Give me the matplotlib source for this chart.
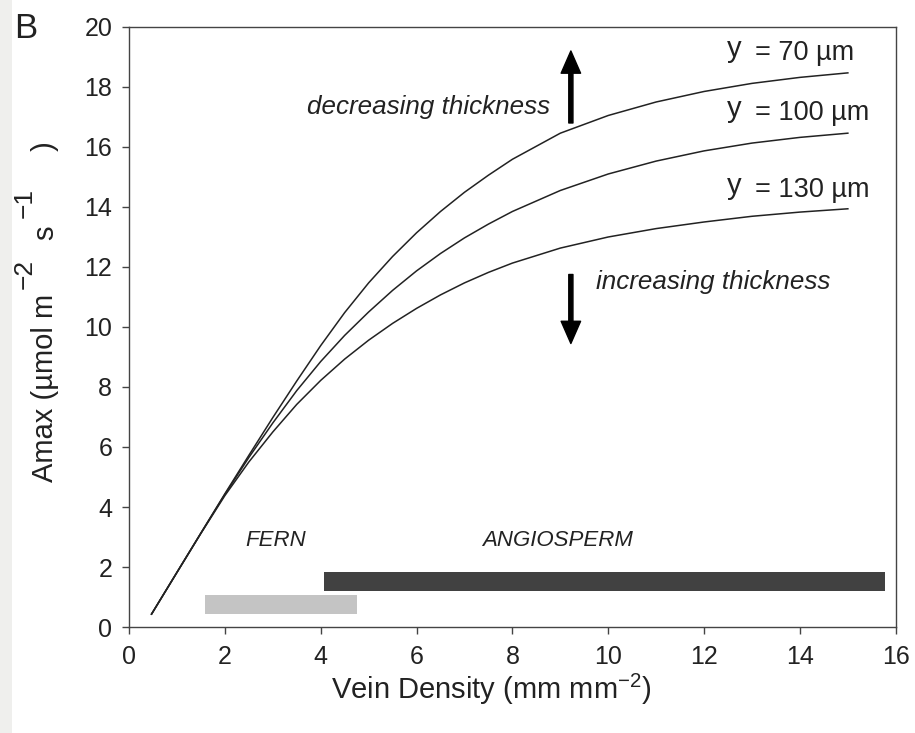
import numpy as np
import matplotlib
matplotlib.use('Agg')
import matplotlib.pyplot as plt
from matplotlib.patches import Rectangle

plt.rcParams['font.family'] = ['Liberation Sans', 'DejaVu Sans']
plt.rcParams['mathtext.fontset'] = 'custom'
plt.rcParams['mathtext.rm'] = 'Liberation Sans'
plt.rcParams['mathtext.it'] = 'Liberation Sans:italic'

# 叶脉密度 (mm mm-2) 与最大光合速率 Amax
vein_density = [0.47, 1.0, 1.5, 2.0, 2.5, 3.0, 3.5, 4.0, 4.5, 5.0, 5.5, 6.0, 6.5,
                7.0, 7.5, 8.0, 9.0, 10.0, 11.0, 12.0, 13.0, 14.0, 15.0]
amax_70 = [0.43, 1.82, 3.13, 4.44, 5.72, 6.98, 8.2, 9.38, 10.48, 11.47, 12.35,
           13.14, 13.85, 14.49, 15.06, 15.59, 16.46, 17.05, 17.5, 17.85, 18.12,
           18.32, 18.47]
amax_100 = [0.43, 1.82, 3.13, 4.42, 5.65, 6.8, 7.88, 8.85, 9.72, 10.5, 11.22,
            11.87, 12.45, 12.97, 13.43, 13.85, 14.55, 15.1, 15.53, 15.87, 16.13,
            16.32, 16.46]
amax_130 = [0.43, 1.82, 3.12, 4.38, 5.5, 6.5, 7.42, 8.22, 8.93, 9.56, 10.12,
            10.62, 11.07, 11.47, 11.82, 12.13, 12.63, 13.0, 13.28, 13.5, 13.69,
            13.83, 13.94]
thickness = ['70', '100', '130']
label_base = [18.9, 16.9, 14.34]

# 蕨类与被子植物的叶脉密度范围
groups = ['FERN', 'ANGIOSPERM']
range_start = [1.59, 4.06]
range_end = [4.75, 15.77]
bar_y = [0.75, 1.51]
bar_colors = ['#c4c4c4', '#414141']
group_text_x = [3.07, 8.95]

W, H = 915, 733
fig = plt.figure(figsize=(W / 100, H / 100), dpi=100)
fig.patches.append(Rectangle((0, 0), 12 / W, 1, transform=fig.transFigure,
                             facecolor='#efefed', edgecolor='none', zorder=0))
ax = fig.add_axes([0.141, 0.1446, 0.838, 0.8186])
ink = '#222222'

for amax in [amax_70, amax_100, amax_130]:
    ax.plot(vein_density, amax, color=ink, lw=1.1)
for th, yb in zip(thickness, label_base):
    ax.text(12.47, yb + 0.1, 'y', fontsize=21, ha='left', va='baseline', color=ink)
    ax.text(13.06, yb, '= ' + th + ' \u00b5m', fontsize=19.5, ha='left',
            va='baseline', color=ink)

for start, end, yc, c in zip(range_start, range_end, bar_y, bar_colors):
    ax.barh(yc, end - start, left=start, height=0.62, color=c, edgecolor='none')
for g, gx in zip(groups, group_text_x):
    ax.text(gx, 2.9, g, fontsize=16, style='italic', ha='center', va='center',
            color=ink)

# 厚度变化箭头
ax.annotate('', xy=(9.22, 19.2), xytext=(9.22, 16.8),
            arrowprops=dict(width=3, headwidth=14, headlength=16, color='black'))
ax.annotate('', xy=(9.22, 9.45), xytext=(9.22, 11.75),
            arrowprops=dict(width=3, headwidth=14, headlength=16, color='black'))
ax.text(8.78, 17.33, 'decreasing thickness', fontsize=18.7, style='italic',
        ha='right', va='center', color=ink)
ax.text(9.75, 11.5, 'increasing thickness', fontsize=18.7, style='italic',
        ha='left', va='center', color=ink)

ax.set_xlim(0, 16)
ax.set_ylim(0, 20)
ax.set_xticks(np.arange(0, 17, 2))
ax.set_yticks(np.arange(0, 21, 2))
ax.tick_params(direction='out', length=5, width=1, color='#444444',
               labelsize=18, labelcolor=ink)
ax.tick_params(axis='y', pad=7)
ax.tick_params(axis='x', pad=8)
for s in ax.spines.values():
    s.set_color('#444444')
    s.set_linewidth(1.0)

ax.set_xlabel('Vein Density (mm mm$^{-2}$)', fontsize=21, color=ink)
ax.xaxis.set_label_coords(0.473, -0.075)

# 纵轴标题分段书写（竖排），上标字号接近正文
# (文字, 字号, 起点y像素, 基线x像素)
ylabel_parts = [('Amax (\u00b5mol m', 21, 482, 53),
                ('\u22122', 19, 289, 32),
                ('s', 21, 240, 53),
                ('\u22121', 19, 218, 32),
                (')', 21, 151, 53)]
for txt, size, ypix, xbase in ylabel_parts:
    fig.text(xbase / W, 1 - ypix / H, txt, fontsize=size, rotation=90,
             rotation_mode='anchor', ha='left', va='baseline', color=ink)

fig.text(26 / W, 1 - 28 / H, 'B', fontsize=25, ha='center', va='center', color=ink)

fig.savefig('out.png', dpi=100)
